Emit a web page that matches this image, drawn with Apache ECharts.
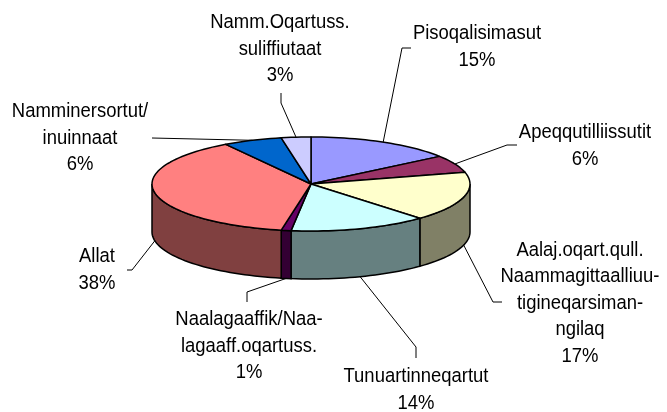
<!DOCTYPE html>
<html>
<head>
    <meta charset="utf-8">
    <title>ECharts</title>
    <script src="https://cdn.jsdelivr.net/npm/echarts@6/dist/echarts.min.js"></script>
</head>
<body style="margin:0;background:#fff;">
    <div id="main" style="width: 667px;height:412px;"></div>
    <script type="text/javascript">
        // slices, clockwise from 12 o'clock
        var categories = ['Pisoqalisimasut', 'Apeqqutilliissutit',
            'Aalaj.oqart.qull.\nNaammagittaalliuu-\ntigineqarsiman-\nngilaq',
            'Tunuartinneqartut', 'Naalagaaffik/Naa-\nlagaaff.oqartuss.', 'Allat',
            'Namminersortut/\ninuinnaat', 'Namm.Oqartuss.\nsuliffiutaat'];
        var shares = [15, 6, 17, 14, 1, 38, 6, 3];
        var topColors = ['#9999FF', '#993366', '#FFFFCC', '#CCFFFF', '#660066', '#FF8080', '#0066CC', '#CCCCFF'];

        // label block centres and leader elbows (layout only)
        var labelPos = [[477, 47], [585, 146], [580, 303], [416, 390], [249, 346], [97, 270], [80, 138], [280, 49]];
        var leaderPts = [
            [[402, 48], [411, 48]],
            [[507, 145], [517, 145]],
            [[493, 302], [502, 302]],
            [[416, 347], [416, 358]],
            [[247, 292], [247, 302]],
            [[132, 270], [127, 270]],
            [[152, 138]],
            [[281, 103], [281, 93]]
        ];

        // pie geometry
        var CX = 311, CY = 184, RX = 159, RY = 47, DEPTH = 48;

        var total = shares.reduce(function(a, b) { return a + b; }, 0);
        var starts = [];
        var acc = 0;
        shares.forEach(function(v) { starts.push(acc); acc += v; });

        function pt(deg, dy) {
            var r = deg * Math.PI / 180;
            return [CX + RX * Math.sin(r), CY - RY * Math.cos(r) + (dy || 0)];
        }

        function arc(a0, a1, dy) {
            var out = [];
            var n = Math.max(2, Math.ceil(Math.abs(a1 - a0) / 2));
            for (var i = 0; i <= n; i++) {
                out.push(pt(a0 + (a1 - a0) * i / n, dy));
            }
            return out;
        }

        function darker(hex) {
            var c = parseInt(hex.slice(1), 16);
            var r = (c >> 16) & 255, g = (c >> 8) & 255, b = c & 255;
            return 'rgb(' + Math.round(r / 2) + ',' + Math.round(g / 2) + ',' + Math.round(b / 2) + ')';
        }

        function renderItem(params, api) {
            var i = params.dataIndex;
            var v = api.value(0);
            var a0 = starts[i] / total * 360;
            var a1 = a0 + v / total * 360;
            var children = [];

            // front wall
            var s0 = Math.max(a0, 90), s1 = Math.min(a1, 270);
            if (s1 > s0) {
                var wall = arc(s0, s1, 0).concat(arc(s1, s0, DEPTH));
                children.push({
                    type: 'polygon',
                    z2: 1,
                    shape: { points: wall },
                    style: { fill: darker(topColors[i]), stroke: '#000', lineWidth: 1.5 }
                });
            }

            // top face
            children.push({
                type: 'polygon',
                z2: 3,
                shape: { points: [[CX, CY]].concat(arc(a0, a1, 0)) },
                style: { fill: topColors[i], stroke: '#000', lineWidth: 1.5, lineJoin: 'round' }
            });

            // leader line
            var mid = (a0 + a1) / 2;
            var front = mid > 90 && mid < 270;
            var anchor = pt(mid, front ? DEPTH : 0);
            children.push({
                type: 'polyline',
                z2: 2,
                shape: { points: [anchor].concat(leaderPts[i]) },
                style: { stroke: '#000', lineWidth: 1, fill: null }
            });

            // the source text is a narrowed Arial
            children.push({
                type: 'text',
                z2: 5,
                x: labelPos[i][0],
                y: labelPos[i][1],
                scaleX: 0.9,
                style: {
                    text: categories[i] + '\n' + v + '%',
                    fill: '#000',
                    fontSize: 20.5,
                    fontFamily: '"Liberation Sans", Arial, sans-serif',
                    lineHeight: 26.5,
                    align: 'center',
                    verticalAlign: 'middle'
                }
            });

            return { type: 'group', children: children };
        }

        var myChart = echarts.init(document.getElementById('main'));
        var option = {
            backgroundColor: '#fff',
            animation: false,
            series: [{
                type: 'custom',
                coordinateSystem: 'none',
                renderItem: renderItem,
                data: shares.map(function(v) { return [v]; })
            }]
        };
        myChart.setOption(option);
    </script>
</body>
</html>
